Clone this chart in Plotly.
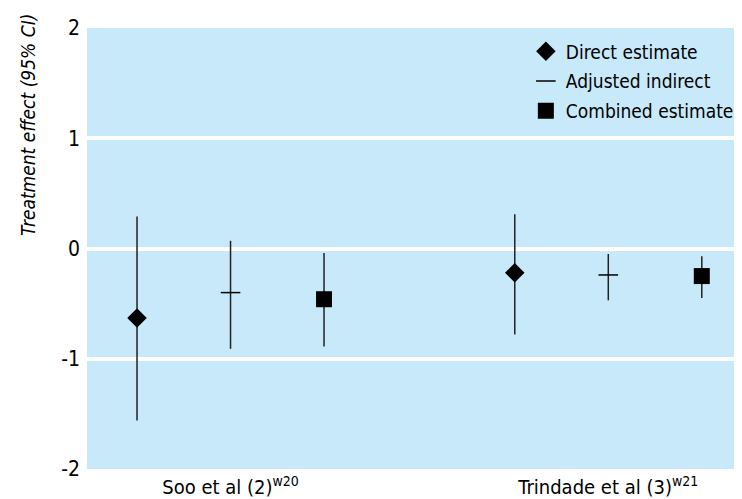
import plotly.graph_objects as go

studies = ["Soo et al (2)<sup>w20</sup>", "Trindade et al (3)<sup>w21</sup>"]
series_names = ["Direct estimate", "Adjusted indirect", "Combined estimate"]

direct_est = [-0.63, -0.22]
direct_lo = [-1.56, -0.78]
direct_hi = [0.29, 0.31]

indirect_est = [-0.40, -0.24]
indirect_lo = [-0.91, -0.47]
indirect_hi = [0.07, -0.05]

combined_est = [-0.46, -0.25]
combined_lo = [-0.89, -0.45]
combined_hi = [-0.04, -0.07]

y_ticks = [-2, -1, 0, 1, 2]
y_ticktext = ["-2", "-1", "0", "1", "2"]

FONT = "DejaVu Sans Condensed, DejaVu Sans, sans-serif"
BG = "#C7E9FA"
group_centers = [1.0, 5.04]
offsets = [-1, 0, 1]

series = [
    (direct_est, direct_lo, direct_hi, dict(symbol="diamond", size=15, color="black")),
    (indirect_est, indirect_lo, indirect_hi,
     dict(symbol="line-ew", size=14, color="black", line=dict(color="black", width=1.5))),
    (combined_est, combined_lo, combined_hi, dict(symbol="square", size=16, color="black")),
]

fig = go.Figure()
for i, (est, lo, hi, mk) in enumerate(series):
    xs = [c + offsets[i] for c in group_centers]
    fig.add_trace(go.Scatter(
        x=xs, y=est, mode="markers", name=series_names[i], legendgroup=f"g{i}",
        marker=mk,
        error_y=dict(type="data", symmetric=False,
                     array=[h - e for h, e in zip(hi, est)],
                     arrayminus=[e - l for e, l in zip(est, lo)],
                     width=0, thickness=1.5, color="#222222"),
    ))

# page body has an 8px margin; compensate so the plot area sits at x 87..742, y 24..469
fig.update_layout(
    width=742, height=499,
    margin=dict(l=79, r=8, t=16, b=38),
    paper_bgcolor="white", plot_bgcolor=BG,
    font=dict(family=FONT, size=19, color="black"),
    xaxis=dict(range=[-0.535, 6.47], tickvals=group_centers, ticktext=studies,
               showgrid=False, zeroline=False, ticks="", showline=False,
               tickfont=dict(size=20), ticklabelstandoff=4),
    yaxis=dict(range=[-2, 2], tickvals=y_ticks, ticktext=y_ticktext,
               showgrid=True, gridcolor="white",
               gridwidth=4, zeroline=False, ticks="", showline=False,
               tickfont=dict(size=21), ticklabelstandoff=6),
    legend=dict(x=0.67, y=0.99, xanchor="left", yanchor="top",
                bgcolor="rgba(0,0,0,0)", font=dict(size=19), tracegroupgap=2),
    showlegend=True,
)
fig.add_annotation(text="<i>Treatment effect (95% CI)</i>", textangle=-90,
                   xref="paper", yref="paper", x=-0.09, y=0.78, showarrow=False,
                   xanchor="center", yanchor="middle", font=dict(size=19))

fig.write_html("out.html")
